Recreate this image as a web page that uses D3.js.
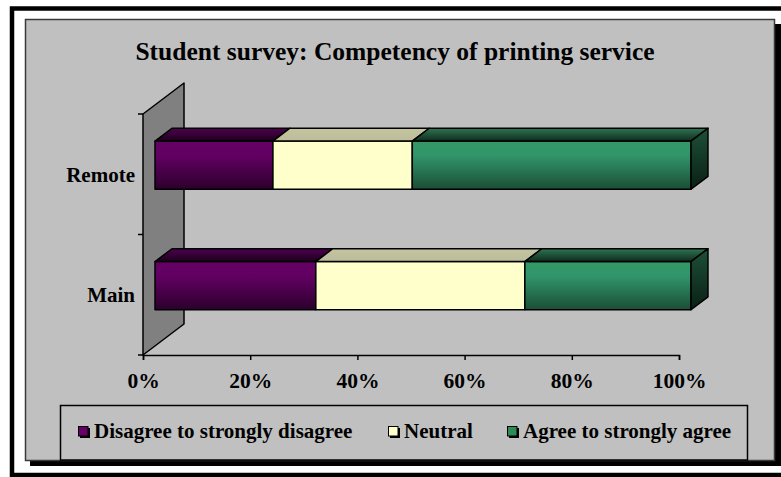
<!DOCTYPE html>
<html>
<head>
<meta charset="utf-8">
<script src="https://cdn.jsdelivr.net/npm/d3@7"></script>
<style>
  body { margin: 0; background: #fff; }
  svg { display: block; }
  text { font-family: "Liberation Serif", "Times New Roman", serif; font-weight: bold; fill: #000; }
</style>
</head>
<body>
<svg id="chart" width="781" height="477"></svg>
<script>
// Survey shares (percent) per campus
const categories = ["Remote", "Main"];
const seriesNames = ["Disagree to strongly disagree", "Neutral", "Agree to strongly agree"];
const disagree = [22, 30];
const neutral = [26, 39];
const agree = [52, 31];
const xTicks = [0, 20, 40, 60, 80, 100];
const titleText = "Student survey: Competency of printing service";

// Colours for each series: front face gradient, top face gradient, end-cap gradient
const palette = [
  { front: ["#660066", "#620062", "#2c002c"], top: ["#4e004e", "#1c001c"], side: ["#3a003a", "#140014"], key: "#660066" },
  { front: ["#FFFFCC", "#FFFFCC", "#FFFFCC"], top: ["#C4C4A0", "#BDBD9B"], side: ["#C0C0A0", "#A8A888"], key: "#FFFFCC" },
  { front: ["#339966", "#31956a", "#1b4e35"], top: ["#2e7552", "#0f2c1d"], side: ["#1d5037", "#0a2016"], key: "#2E8B57" }
];

const rows = categories.map((c, i) => ({ cat: c, s0: disagree[i], s1: neutral[i], s2: agree[i] }));
const stack = d3.stack().keys(["s0", "s1", "s2"]);
const stacked = stack(rows);

const svg = d3.select("#chart");
const defs = svg.append("defs");

palette.forEach((p, i) => {
  const gf = defs.append("linearGradient").attr("id", "front" + i).attr("x1", 0).attr("y1", 0).attr("x2", 0).attr("y2", 1);
  gf.append("stop").attr("offset", "0").attr("stop-color", p.front[0]);
  gf.append("stop").attr("offset", "0.3").attr("stop-color", p.front[1]);
  gf.append("stop").attr("offset", "1").attr("stop-color", p.front[2]);
  const gt = defs.append("linearGradient").attr("id", "top" + i).attr("x1", 0).attr("y1", 0).attr("x2", 0).attr("y2", 1);
  gt.append("stop").attr("offset", "0").attr("stop-color", p.top[0]);
  gt.append("stop").attr("offset", "1").attr("stop-color", p.top[1]);
  const gs = defs.append("linearGradient").attr("id", "side" + i).attr("x1", 0).attr("y1", 0).attr("x2", 0).attr("y2", 1);
  gs.append("stop").attr("offset", "0").attr("stop-color", p.side[0]);
  gs.append("stop").attr("offset", "1").attr("stop-color", p.side[1]);
});

// Outer frame
svg.append("rect").attr("x", 12).attr("y", 8.5).attr("width", 790).attr("height", 466.5)
  .attr("fill", "#fff").attr("stroke", "#000").attr("stroke-width", 4.5);

// Chart area with drop shadow
svg.append("rect").attr("x", 30).attr("y", 24).attr("width", 751).attr("height", 442).attr("fill", "#000");
svg.append("rect").attr("x", 25.5).attr("y", 19.5).attr("width", 749).attr("height", 441)
  .attr("fill", "#C0C0C0").attr("stroke", "#3a3a3a").attr("stroke-width", 1.5);

// Title
svg.append("text").attr("x", 395).attr("y", 60).attr("text-anchor", "middle")
  .style("font-size", "25.5px").text(titleText);

// Scales: value along the front edge, categories top to bottom
const x = d3.scaleLinear().domain([0, 100]).range([143, 679]);
const yOuter = d3.scaleBand().domain(categories).range([114, 355]).padding(0);
const y = d3.scaleBand().domain(categories).range([114, 355]).paddingInner(0.6).paddingOuter(0.3);

// Depth vector for the oblique projection
const depth = { dx: 41, dy: -31 };
const barDepth = [0.293, 0.707];
const proj = (v, sy, d) => [x(v) + d * depth.dx, sy + d * depth.dy];

// Side wall
const wallTop = yOuter.range()[0], wallBottom = yOuter.range()[1];
const wall = [proj(0, wallTop, 0), proj(0, wallTop, 1), proj(0, wallBottom, 1), proj(0, wallBottom, 0)];
svg.append("path").attr("d", d3.line()(wall) + "Z")
  .attr("fill", "#808080").attr("stroke", "#000").attr("stroke-width", 1.5).attr("stroke-linejoin", "round");

// Category ticks on the wall edge
const boundaries = [wallTop].concat(categories.map(c => yOuter(c) + yOuter.bandwidth()));
svg.append("g").selectAll("line").data(boundaries).join("line")
  .attr("x1", x(0) - 5).attr("x2", x(0)).attr("y1", d => d).attr("y2", d => d)
  .attr("stroke", "#000").attr("stroke-width", 1.5);

// Category labels
svg.append("g").selectAll("text").data(categories).join("text")
  .attr("x", 135).attr("y", d => yOuter(d) + yOuter.bandwidth() / 2)
  .attr("dy", "0.35em").attr("text-anchor", "end").style("font-size", "21px").text(d => d);

// Value axis along the floor front edge
const xAxis = d3.axisBottom(x).tickValues(xTicks).tickFormat(d => d + "%").tickSizeOuter(0).tickSize(5);
const ax = svg.append("g").attr("transform", `translate(0,${wallBottom})`).call(xAxis);
ax.select(".domain").attr("stroke", "#000").attr("stroke-width", 1.5);
ax.selectAll(".tick line").attr("stroke", "#000").attr("stroke-width", 1.5);
ax.selectAll(".tick text").attr("y", 33).attr("dy", 0).attr("fill", "#000")
  .style("font-size", "21.5px").style("font-family", "'Liberation Serif', 'Times New Roman', serif").style("font-weight", "bold");

// Stacked 3D bars
const bars = svg.append("g");
rows.forEach((row, ri) => {
  const y0 = y(row.cat), y1 = y0 + y.bandwidth();
  const g = bars.append("g");
  stacked.forEach((layer, si) => {
    const [a, b] = layer[ri];
    const f0 = barDepth[0], f1 = barDepth[1];
    // front face
    const front = [proj(a, y0, f0), proj(b, y0, f0), proj(b, y1, f0), proj(a, y1, f0)];
    g.append("path").attr("d", d3.line()(front) + "Z")
      .attr("fill", `url(#front${si})`).attr("stroke", "#000").attr("stroke-width", 1.5).attr("stroke-linejoin", "round");
    // top face
    const top = [proj(a, y0, f0), proj(a, y0, f1), proj(b, y0, f1), proj(b, y0, f0)];
    g.append("path").attr("d", d3.line()(top) + "Z")
      .attr("fill", `url(#top${si})`).attr("stroke", "#000").attr("stroke-width", 1.5).attr("stroke-linejoin", "round");
    // end cap on the last segment
    if (si === stacked.length - 1) {
      const side = [proj(b, y0, f0), proj(b, y0, f1), proj(b, y1, f1), proj(b, y1, f0)];
      g.append("path").attr("d", d3.line()(side) + "Z")
        .attr("fill", `url(#side${si})`).attr("stroke", "#000").attr("stroke-width", 1.5).attr("stroke-linejoin", "round");
    }
  });
});

// Legend
const legend = svg.append("g");
legend.append("rect").attr("x", 60.5).attr("y", 405.5).attr("width", 687).attr("height", 54.5)
  .attr("fill", "#C0C0C0").attr("stroke", "#000").attr("stroke-width", 1.5);
const legendX = [78, 388, 507];
seriesNames.forEach((name, i) => {
  const lx = legendX[i], ly = 426;
  legend.append("rect").attr("x", lx + 2).attr("y", ly + 2).attr("width", 10).attr("height", 10).attr("fill", "#000");
  legend.append("rect").attr("x", lx + 0.5).attr("y", ly + 0.5).attr("width", 9.5).attr("height", 9.5)
    .attr("fill", palette[i].key).attr("stroke", "#000").attr("stroke-width", 1);
  legend.append("text").attr("x", lx + 16).attr("y", ly + 12).style("font-size", "21px").text(name);
});
</script>
</body>
</html>
